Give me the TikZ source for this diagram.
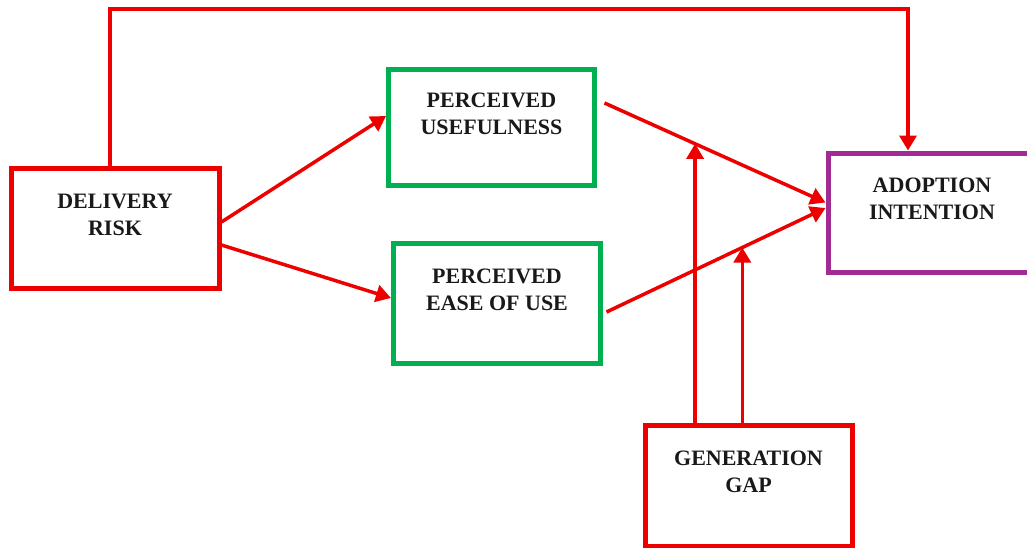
\documentclass[tikz,border=0pt]{standalone}
\usepackage{fontspec}
\setmainfont{Liberation Serif}
\usepackage{xcolor}
\usetikzlibrary{positioning,arrows.meta}
\definecolor{boxred}{RGB}{237,0,0}
\definecolor{boxgreen}{RGB}{0,176,80}
\definecolor{boxpurple}{RGB}{160,43,147}

\begin{document}
\begin{tikzpicture}[x=1pt, y=-1pt,
boxnode/.style={rectangle, line width=5pt, align=center, inner sep=0pt},
rednode/.style={boxnode, draw=boxred},
greennode/.style={boxnode, draw=boxgreen},
purplenode/.style={boxnode, draw=boxpurple},
link/.style={draw=boxred, line width=3.5pt, -{Triangle[length=15pt,width=17pt]}}]
\tikzstyle{every node}=[font=\fontsize{22}{27}\selectfont\bfseries, text=black!90]
\useasboundingbox (0,0) rectangle (1027,547);
\clip (0,0) rectangle (1027,547);

\node[rednode, minimum width=208pt, minimum height=120pt] (1) at (115,228) {DELIVERY\\RISK\\\mbox{}};
\node[greennode, minimum width=206pt, minimum height=116pt] (2) at (491.5,127.5) {PERCEIVED\\USEFULNESS\\\mbox{}};
\node[greennode, minimum width=207pt, minimum height=120pt] (3) at (497,303.5) {PERCEIVED\\EASE OF USE\\\mbox{}};
\node[purplenode, minimum width=208pt, minimum height=119pt] (4) at (932,212.5) {ADOPTION\\INTENTION\\\mbox{}};
\node[rednode, minimum width=207pt, minimum height=121pt] (5) at (748.5,485.5) {GENERATION\\GAP\\\mbox{}};

\draw[link] ([xshift=-5pt]1.north) |- ([xshift=-24pt]4.north |- 0,9) -- ([xshift=-24pt]4.north);
\draw[link] ([yshift=6pt]1.east) -- ([yshift=11.5pt]2.west);
\draw[link] ([yshift=-17pt]1.east) -- ([yshift=5.5pt]3.west);
\draw[link] ([xshift=7.5pt,yshift=24.5pt]2.east) -- coordinate[pos=0.41] (m1) ([yshift=10pt]4.west);
\draw[link] ([xshift=3.5pt,yshift=-8.5pt]3.east) -- coordinate[pos=0.62] (m2) ([yshift=4.5pt]4.west);
\draw[link] (m1 |- 5.north) -- (m1);
\draw[link] (m2 |- 5.north) -- (m2);
\end{tikzpicture}
\end{document}
